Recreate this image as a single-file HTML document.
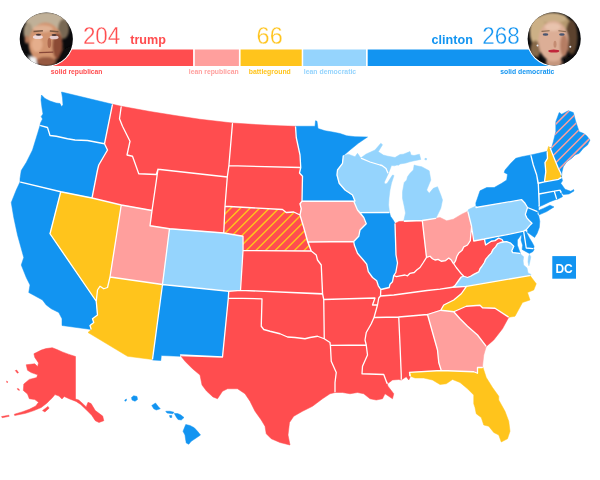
<!DOCTYPE html>
<html lang="en"><head><meta charset="utf-8"><title>Road to 270</title>
<style>
html,body{margin:0;padding:0;background:#fff;}
body{width:600px;height:480px;overflow:hidden;}
svg{display:block;font-family:"Liberation Sans",sans-serif;}
.sr{fill:#ff4d4f;stroke:#ff4d4f}.lr{fill:#ff9f9d;stroke:#ff9f9d}.bg{fill:#ffc41c;stroke:#ffc41c}.ld{fill:#95d4fd;stroke:#95d4fd}.sd{fill:#1294f1;stroke:#1294f1}
.ne{fill:#ff4d4f;stroke:#ff4d4f}.me{fill:#1294f1;stroke:#1294f1}
#map .st line{stroke-width:1.45;}
#map path{stroke-width:.5;stroke-linejoin:round;}
#map path.bd{fill:none;stroke:#fff;stroke-width:1.3;stroke-linecap:round;stroke-linejoin:round;}
.num{font-size:22.4px;stroke:#fff;stroke-width:.3px;}
.name{font-size:12.6px;font-weight:bold;}
.lab{font-size:6.8px;font-weight:bold;}
.dc{font-size:12px;font-weight:bold;fill:#fff;text-anchor:middle;}
</style></head><body>
<svg width="600" height="480" viewBox="0 0 600 480">
<defs>
<clipPath id="cne"><path d="M225,206.25 282.5,209.5 286.25,212.5 293.75,212 300,215 303.75,227.5 307.5,240.75 311.25,251 243,250.5 243,236.25 223.75,233Z"/></clipPath>
<clipPath id="cme"><path d="M551.7,147.5 553.3,141.7 555.8,131.7 555.8,121.7 559.2,112.5 561.7,114.2 568.3,110.8 573.3,112.5 575.8,121.7 579.2,131.7 583.3,133.3 586.7,135.8 590,140 587.5,145 583.3,148.3 579.2,153.3 575,155 571.7,158.3 566.7,161.7 563.3,166.7 562,172 561.5,177 560.8,173.3 558.3,168.3 554.2,158.3 550,147.5 550,147.5Z"/></clipPath>
<clipPath id="cl"><circle cx="46.3" cy="39.1" r="26.6"/></clipPath>
<clipPath id="cr"><circle cx="554.2" cy="38.8" r="26.6"/></clipPath>
<filter id="bl" x="-20%" y="-20%" width="140%" height="140%"><feGaussianBlur stdDeviation="1"/></filter>
<filter id="bs" x="-20%" y="-20%" width="140%" height="140%"><feGaussianBlur stdDeviation="0.45"/></filter>
</defs>
<g id="bar">
<rect x="46" y="49.5" width="147.1" height="16.5" fill="#ff4d4f"/>
<rect x="194.8" y="49.5" width="44.1" height="16.5" fill="#ff9f9d"/>
<rect x="240.6" y="49.5" width="61.1" height="16.5" fill="#ffc41c"/>
<rect x="303.2" y="49.5" width="62.8" height="16.5" fill="#95d4fd"/>
<rect x="367.7" y="49.5" width="186.3" height="16.5" fill="#1294f1"/>
</g>
<g id="hdr">
<text class="num" transform="translate(82.9,43.85) scale(1,1.065)" fill="#ff4d4f">204</text>
<text class="name" x="130.2" y="43.7" fill="#ff4d4f">trump</text>
<text class="num" transform="translate(256.6,43.85) scale(1,1.065)" fill="#ffc41c" textLength="26.1" lengthAdjust="spacingAndGlyphs">66</text>
<text class="name" x="431.6" y="43.7" fill="#1294f1">clinton</text>
<text class="num" transform="translate(482.3,43.85) scale(1,1.065)" fill="#1294f1">268</text>
<text class="lab" x="50.8" y="73.6" fill="#ff4d4f" textLength="51.7" lengthAdjust="spacingAndGlyphs">solid republican</text>
<text class="lab" x="188.8" y="73.6" fill="#ff9f9d" textLength="49.8" lengthAdjust="spacingAndGlyphs">lean republican</text>
<text class="lab" x="248.8" y="73.6" fill="#ffc41c" textLength="42" lengthAdjust="spacingAndGlyphs">battleground</text>
<text class="lab" x="303.8" y="73.6" fill="#95d4fd" textLength="52.4" lengthAdjust="spacingAndGlyphs">lean democratic</text>
<text class="lab" x="500.2" y="73.6" fill="#1294f1" textLength="54.2" lengthAdjust="spacingAndGlyphs">solid democratic</text>
</g>
<g id="avL">
<circle cx="46.3" cy="39.1" r="27.7" fill="#fff"/>
<circle cx="46.3" cy="39.1" r="26.6" fill="#0a0a0c"/>
<g clip-path="url(#cl)"><g filter="url(#bl)">
<ellipse cx="46.6" cy="22.5" rx="21" ry="10.5" fill="#c0b098"/>
<ellipse cx="28" cy="31.5" rx="4.5" ry="9" fill="#a5947c"/>
<ellipse cx="63.5" cy="29" rx="5.5" ry="10" fill="#786853"/>
<ellipse cx="26.8" cy="39.5" rx="2" ry="4" fill="#b87a5c"/>
<ellipse cx="45.4" cy="43.2" rx="16.8" ry="20.6" fill="#d2946f"/>
<ellipse cx="42.9" cy="28.8" rx="10" ry="3.6" fill="#e0b193"/>
<ellipse cx="37" cy="44.5" rx="5.5" ry="7.5" fill="#e5ae8c"/>
<ellipse cx="57.5" cy="46" rx="5" ry="13" fill="#8c4c36"/>
<ellipse cx="46" cy="61.5" rx="10" ry="4.5" fill="#96583f"/>
<path d="M29,55.5 L36,58 L37.3,66 L30,66Z" fill="#f4f4f4"/>
<path d="M16,50 L27.5,53.5 L31,70 L16,70Z" fill="#0a0a0c"/>
<path d="M57,60 L62,50 L76,44 L76,70 L52,70Z" fill="#0a0a0c"/>
</g><g filter="url(#bs)">
<ellipse cx="37.9" cy="37" rx="5" ry="2" fill="#f0dada"/>
<ellipse cx="54.1" cy="37.4" rx="4.5" ry="1.8" fill="#e6cccd"/>
<path d="M33.5,31.6 L42.9,30.8 M49.8,30.9 L58.5,31.8" stroke="#7a5843" stroke-width="1.5" fill="none"/>
<ellipse cx="38.5" cy="34.7" rx="2.6" ry="1" fill="#4a3838"/>
<ellipse cx="54.1" cy="35" rx="2.6" ry="1" fill="#4a3838"/>
<ellipse cx="49.3" cy="43" rx="1.8" ry="5" fill="#ad684d"/>
<path d="M39.2,52.6 L53.4,52.2" stroke="#874638" stroke-width="1.3" fill="none"/>
</g></g>
</g>
<g id="avR">
<circle cx="554.2" cy="38.8" r="27.7" fill="#fff"/>
<circle cx="554.2" cy="38.8" r="26.6" fill="#0a0a0c"/>
<g clip-path="url(#cr)"><g filter="url(#bl)">
<ellipse cx="552.5" cy="34" rx="22.5" ry="21.5" fill="#b5986e"/>
<ellipse cx="537.8" cy="30.5" rx="8" ry="14" fill="#ccb086"/>
<ellipse cx="552.8" cy="18" rx="14" ry="5" fill="#c9ae86"/>
<ellipse cx="571.5" cy="37" rx="6" ry="17" fill="#5c432e"/>
<ellipse cx="535.3" cy="49.5" rx="5" ry="9" fill="#86694a"/>
<ellipse cx="554" cy="62" rx="8" ry="6" fill="#c4957b"/>
<ellipse cx="553.4" cy="41.1" rx="15" ry="20.4" fill="#dcae96"/>
<ellipse cx="552.8" cy="27" rx="8" ry="4" fill="#e8c3ad"/>
<ellipse cx="564" cy="45.5" rx="4" ry="11" fill="#b57d63"/>
<path d="M524,54 L539,57 L546,70 L524,70Z" fill="#0a0a0c"/>
<path d="M565,59 L584,48 L584,70 L560,70Z" fill="#0a0a0c"/>
</g><g filter="url(#bs)">
<path d="M541.5,31.4 L549.6,30.8 M558.4,30.8 L565.9,31.6" stroke="#8a6a50" stroke-width="1.1" fill="none"/>
<ellipse cx="545.5" cy="34.5" rx="2.8" ry="1.3" fill="#4a5570"/>
<ellipse cx="561.9" cy="34.5" rx="2.8" ry="1.3" fill="#4a5570"/>
<ellipse cx="555" cy="44.3" rx="1.5" ry="3.5" fill="#c48c72"/>
<ellipse cx="553.8" cy="51.1" rx="5.5" ry="1.5" fill="#c0283a"/>
<circle cx="537.5" cy="45.5" r="1" fill="#e8e8f0"/>
<circle cx="570.3" cy="46.8" r="1" fill="#e8e8f0"/>
</g></g>
</g>

<g id="map">
<path class="sd" d="M40,125.5 40.5,123 42.5,119 41.2,116.5 43,114 42,108 41,100 41.5,95 45,98.5 50,101 56,103 60,103.5 61.5,106.5 63,105 62.5,98 61.5,92 112.5,104.25 104.5,143.75 87.5,140.5 75,140 67.5,138.75 56.25,136.25 50,135.5 47.5,127.5 40,125.5Z"/>
<path class="sd" d="M40,125.5 37.5,133.75 32.5,150 26.25,162.5 21.25,170.5 20,178.75 20,182 60.75,191.75 92,198 97.5,170 98.75,165 107.5,150 104.5,143.75 87.5,140.5 75,140 67.5,138.75 56.25,136.25 50,135.5 47.5,127.5 40,125.5Z"/>
<path class="sd" d="M20,182 60.75,191.75 50,233.75 96.25,301.25 97.5,315 92.5,318.75 93.75,322.5 90,325.5 91.25,329.5 62,325.5 62,318.75 58.75,312.5 51.25,308.75 46.25,305 42.5,300 28.75,292.5 30,285 26.25,277.5 21.25,265 23.75,257.5 17.5,235 13.75,217.5 11.25,202.5 16.25,190Z"/>
<path class="bg" d="M60.75,191.75 92,198 121.25,205 110,277 107.5,287.5 103.75,288.75 100,286.25 97.5,290 96.25,301.25 50,233.75Z"/>
<path class="sr" d="M112.5,104.25 121.25,106.25 119.5,118.75 122.5,126.25 130,141.25 127,155 132.5,156.25 138.75,173.75 156.25,174.5 158,169.25 152,210.5 121.25,205 92,198 97.5,170 98.75,165 107.5,150 104.5,143.75 112.5,104.25Z"/>
<path class="sr" d="M121.25,106.25 150,111.5 175,115.5 200,119.25 232.5,123 228.9,165.7 227.3,177 158,169.25 156.25,174.5 138.75,173.75 132.5,156.25 127,155 130,141.25 122.5,126.25 119.5,118.75Z"/>
<path class="sr" d="M158,169.25 227.3,177 225,206.25 223.75,233 169.5,228.75 150,225.75 152,210.5Z"/>
<path class="lr" d="M121.25,205 152,210.5 150,225.75 169.5,228.75 162.5,284.5 110,277Z"/>
<path class="ld" d="M169.5,228.75 223.75,233 243,236.25 243,250.5 240.5,290.3 228.75,291.25 162.5,284.5Z"/>
<path class="bg" d="M110,277 162.5,284.5 152.5,359.5 127.5,356.3 88,332.5 91.25,329.5 90,325.5 93.75,322.5 92.5,318.75 97.5,315 96.25,301.25 97.5,290 100,286.25 103.75,288.75 107.5,287.5 110,277Z"/>
<path class="sd" d="M162.5,284.5 228.75,291.25 228.3,298.2 222.5,357 180.5,355 180,356.3 161.3,355.5 160.8,360.5 152.4,360Z"/>
<path class="sr" d="M232.5,123 260,124.8 280,125.8 295.5,126.25 296.25,137.5 300,155 300.75,167.5 228.9,165.7Z"/>
<path class="sr" d="M228.9,165.7 300.75,167.5 299.5,173 302.5,176.25 302,201.25 300,203.75 301.25,208.75 300,215 293.75,212 286.25,212.5 282.5,209.5 225,206.25 227.3,177Z"/>
<path class="ne" d="M225,206.25 282.5,209.5 286.25,212.5 293.75,212 300,215 303.75,227.5 307.5,240.75 311.25,251 243,250.5 243,236.25 223.75,233Z"/>
<path class="sr" d="M243,250.5 311.25,251 316.25,255 317.5,260 321.25,265 322.5,293.75 240.5,290.3Z"/>
<path class="sr" d="M228.75,291.25 240.5,290.3 322.6,294 323.75,299.5 324.25,338.75 317.5,336.25 310,337.5 305,338.75 295,337.5 287.5,337 280,333.75 270,331.25 263.75,329.5 261.25,326.25 262,298.8 228.3,298.2Z"/>
<path class="sr" d="M228.3,298.2 262,298.8 261.25,326.25 263.75,329.5 270,331.25 280,333.75 287.5,337 295,337.5 305,338.75 310,337.5 317.5,336.25 324.25,338.75 330,342.5 330.25,345 330.4,345.3 331.25,361.25 336.25,372.5 335,382.5 335,392.5 330,393.75 322.5,398.75 312.5,406.25 302.5,411.25 293.75,416.25 289.5,422.5 288,435 290,445 280,442.5 271.25,438.75 266.25,433.75 265,426.25 261.25,420 255,411.25 250,401.25 245,393.75 237.5,388.75 227.5,388.75 222.5,391.25 217.5,398.75 213,397 206.5,391 202,385 200,375 192.5,368.75 185,361.25 180.5,355.5 222.5,357Z"/>
<path class="sd" d="M295.5,126.25 315,126.25 315.5,120.75 317,121.25 318,128.5 325,130.75 332.5,132 340,133.5 346.7,135.8 355,136.7 367.5,137 358.3,143.3 350,150 343.3,155.8 342.5,163.3 337.5,170 337,175 339.2,183.3 345,190 352.5,195 355,201 302,201.25 302.5,176.25 299.5,173 300.75,167.5 300,155 296.25,137.5Z"/>
<path class="lr" d="M302,201.25 353.75,201.25 357.5,210 363.75,217.5 366.25,223.75 360,230 358.75,236.25 353.75,241.5 307.7,242 303.75,227.5 300,215 301.25,208.75 300,203.75Z"/>
<path class="sr" d="M307.7,242 353.75,241.5 354.3,245 357.5,253.3 363.3,260 366.7,264.2 368.3,271.7 372.5,277.5 376.7,280.8 378.3,285.8 380.8,289.5 380.5,296 378.75,298 377.5,305 372.5,305 375,298 323.75,299.5 322.6,294 321.25,265 317.5,260 316.25,255 311.25,251Z"/>
<path class="sr" d="M323.75,299.5 375,298 372.5,305 377.5,305 377.5,305 374,317.5 371.25,323.75 366.25,332.5 365,340 366.25,345 330.4,345.3 330.25,345 330,342.5 324.25,338.75Z"/>
<path class="sr" d="M330.4,345.3 366.25,345 367.5,355 362.5,366.25 362,373.75 383.75,374.5 386.25,381.25 388,386.25 393.75,393.75 392.5,398.75 385,393.75 382.5,398.75 376.25,400 370,398.75 363.75,393.75 357.5,392.5 350,393.75 342.5,392.5 335,392.5 335,382.5 336.25,372.5 331.25,361.25 330.4,345.3Z"/>
<path class="sr" d="M374,317.5 398.75,317 400,345 401.25,375 401.25,380 398.75,379.5 392.5,380 387.5,383.75 386.25,381.25 383.75,374.5 362,373.75 362.5,366.25 367.5,355 366.25,345 365,340 366.25,332.5 371.25,323.75Z"/>
<path class="sr" d="M398.75,317 427.5,314.5 437.5,350 438.75,362.5 441.25,370.5 409.5,372.3 410,377.5 408.75,380 406.25,376.75 401.25,380 401.25,375 400,345Z"/>
<path class="sr" d="M380.5,296 393.75,295 427,290.5 440,289.2 452.5,287.25 466.5,286.3 461.25,293.75 453.75,300 443.75,305 440.75,310.25 427.5,314.5 398.75,317 374,317.5 377.5,305 378.75,298 380.5,296Z"/>
<path class="sr" d="M380.8,289.5 385,288.5 389.2,287.5 390,284.2 392.5,281.7 393.75,275.5 396.5,276.6 400,275.8 405,275 407.5,275.8 410,273.3 414.2,272.5 416.7,270 420,267.5 423.3,262.5 426.5,257.3 430,256.25 432.5,258.75 435,260 438.1,259.4 441.25,261.25 445.6,260.6 448.75,258.1 451.25,260 453.1,263.1 453.75,263.75 456.25,267.5 458.75,270.6 461.25,273.75 463.75,276.25 461.25,277 458.1,281.25 455,285.6 452.5,287.25 440,289.2 427,290.5 393.75,295 380.5,296Z"/>
<path class="sd" d="M360,212.7 389.5,212.5 390.5,216.25 393.5,220.5 395,223.5 396,255 397.5,263 395.8,272.5 393.75,275.5 392.5,281.7 390,284.2 389.2,287.5 385,288.5 380.8,289.5 378.3,285.8 376.7,280.8 372.5,277.5 368.3,271.7 366.7,264.2 363.3,260 357.5,253.3 354.3,245 353.75,241.5 353.75,241.5 358.75,236.25 360,230 366.25,223.75 363.75,217.5Z"/>
<path class="sr" d="M395,223.5 399,221.5 422.3,220.5 426.5,257.3 423.3,262.5 420,267.5 416.7,270 414.2,272.5 410,273.3 407.5,275.8 405,275 400,275.8 396.5,276.6 393.75,275.5 395.8,272.5 397.5,263 396,255Z"/>
<path class="lr" d="M422.3,220.5 435.8,218.3 440,217.5 446.7,220.8 453.3,219.2 461.7,214.2 467.8,211.3 471.6,226.5 471,232.5 470.3,240.6 467.5,245 463.75,246.9 461.9,250.6 458.75,253.1 456.9,256.25 455.6,260.6 453.75,263.75 453.1,263.1 451.25,260 448.75,258.1 445.6,260.6 441.25,261.25 438.1,259.4 435,260 432.5,258.75 430,256.25 426.5,257.3Z"/>
<path class="ld" d="M343.3,155.8 348.3,154.2 355,156.7 357.5,153.3 360.8,158 370,162 380,165 382,165.5 386,168.5 388.25,173.75 384.3,182.2 385,184 387,183.6 392.5,175 394,175.5 391.5,183 390,190 389,198 388.6,205 389.5,212.5 360,212.7 357.5,210 353.75,201.25 355,201 352.5,195 345,190 339.2,183.3 337,175 337.5,170 342.5,163.3Z"/>
<path class="ld" d="M360.8,158 370,162 380,165 382,165.5 386,168.5 388.25,173.75 391.5,165.5 394.5,165.8 397,165 398.5,165.2 400,164 406,163 409,162 413,161 420.8,159.4 419.4,154.2 414,155.5 411,155 410,151.6 403.3,154.2 400,154.5 395,157.5 387,156 383.3,155 378.3,151.7 382.5,144.7 380.8,143.3 375,150 365.8,154.2ZM414.2,165 416.7,165.8 421.7,166.7 429.2,170.8 430.8,180 426.7,190 429.2,193.3 433.3,188.3 437.5,186.7 440.8,195 442.5,200 440.8,208.3 437.5,215 435.8,218.3 422.3,220.5 403.75,220.8 405.5,213 404.2,206 402.5,198.3 402.5,191.7 404.2,182.5 406.7,180 407.5,176.7 410,173.3 413.3,170ZM425,158.3 426.7,158.6 426.3,160 424.8,159.6Z"/>
<path class="ld" d="M467.8,211.3 468.5,209.5 476,206 476,207.5 521.7,199.7 525,203.3 527.5,207.5 525.3,214.5 527,218.1 529.4,220.7 532,223.3 529.6,225.6 526.25,229.6 523.6,231.1 508.5,234.3 495,236.9 484.4,239 473.75,241 471.6,226.5Z"/>
<path class="sd" d="M476,206 475.8,203 480,190.8 486.7,187.5 494.2,187.5 501.7,183.3 506.7,180 507.5,174.2 504.2,172.5 505,170 510.8,163.3 515.8,158.3 521.7,156.7 530.8,155 533.3,165 536.7,175 538.3,183.3 538.7,193.3 539.2,205 538.3,209.2 539.5,211 537.5,211.5 527.5,207.5 525,203.3 521.7,199.7 476,207.5ZM538.4,211.6 539.2,214.8 546.7,211.6 554,206.9 550,205.2 543.3,208.4 539.5,210Z"/>
<path class="sd" d="M527.5,207.5 537.5,211.5 537.3,214 538.75,216 539.8,221.25 539.3,227.5 537.2,233.2 534.6,237.4 531.5,235.3 527.3,232.2 526.25,229.6 529.6,225.6 532,223.3 529.4,220.7 527,218.1 525.3,214.5Z"/>
<path class="sd" d="M523.6,231.1 526.25,229.8 526.6,232.7 529.4,237.9 532.5,243.1 534.1,246.25 533.5,248.7 526.25,248 524.7,237.9Z"/>
<path class="sd" d="M484.4,239 495,236.9 508.5,234.3 523.6,231.1 524.7,237.9 526.25,248 533.5,248.7 534.1,249.5 533,251.5 529.4,253.5 524.7,250.9 522.1,249.4 522.6,245.2 521,240 521.6,235.8 521.2,234.8 517.4,240 517.4,245.2 519.5,250.9 520.5,253.5 512.7,252.6 511.7,250.9 513.75,246.25 510.6,243.1 506.5,241.6 503.5,242 502,239.5 498.6,238.1 495,240.6 491.25,241.25 487.5,243.75 485.6,245Z"/>
<path class="sr" d="M453.75,263.75 455.6,260.6 456.9,256.25 458.75,253.1 461.9,250.6 463.75,246.9 467.5,245 470.3,240.6 471,232.5 471.6,226.5 473.75,241 484.4,239 485.6,245 487.5,243.75 491.25,241.25 495,240.6 498.6,238.1 502,239.5 503.5,242 500.6,242.5 497.5,243.75 495.6,246.9 493.1,249.4 491.25,253.1 488.75,255.6 487.75,256.9 485.6,259.4 484.4,262.5 481.9,266.25 480,268.75 478.75,271.9 473.75,274.4 470.6,276.25 467.5,277.5 463.75,276.25 461.25,273.75 458.75,270.6 456.25,267.5Z"/>
<path class="ld" d="M452.5,287.25 455,285.6 458.1,281.25 461.25,277 463.75,276.25 467.5,277.5 470.6,276.25 473.75,274.4 478.75,271.9 480,268.75 481.9,266.25 484.4,262.5 485.6,259.4 487.75,256.9 488.75,255.6 491.25,253.1 493.1,249.4 495.6,246.9 497.5,243.75 500.6,242.5 503.5,242 506.5,241.6 510.6,243.1 513.75,246.25 511.7,250.9 512.7,252.6 520.5,253.5 521,254.6 523.6,256.7 523.1,260.8 523.6,265 527,268 528,273 531,274.4 530,275.5 466.5,286.3ZM529.4,254.4 530.8,256.7 529.8,262 528.9,265.8 528,262 528.4,257Z"/>
<path class="bg" d="M466.5,286.3 530,275.5 536.25,283.75 533.75,290 527.5,292.5 530,300 522.5,302.5 515,316.25 508.75,317.25 495,308.25 482.5,307.75 480,305.25 466.25,306.25 453.75,311.75 440.75,310.25 443.75,305 453.75,300 461.25,293.75Z"/>
<path class="sr" d="M453.75,311.75 466.25,306.25 480,305.25 482.5,307.75 495,308.25 508.75,317.25 502.5,328.75 493.75,340 486.25,346.5 477.5,335 467.5,326.25 460,318.75Z"/>
<path class="lr" d="M427.5,314.5 440.75,310.25 453.75,311.75 460,318.75 467.5,326.25 477.5,335 486.25,346.5 483.75,355 482.5,366.25 483,367.5 477.5,367.5 477.5,373.25 473.75,371.75 441.25,370.5 438.75,362.5 437.5,350Z"/>
<path class="bg" d="M409.5,372.3 441.25,370.5 473.75,371.75 477.5,373.25 477.5,367.5 483,367.5 486.25,377.5 492.5,387.5 498.75,396.25 498.75,400 505,411.25 508.75,421.25 510,431.25 507.5,438.75 501.25,442 498.75,435 493.75,432.5 488.75,426.25 483.75,425 481.25,417.5 476.25,413.75 475,407.5 473.75,403.75 473.75,395 467.5,388.75 460,382.5 452.5,379.5 446.25,383.75 440,384.5 432.5,380 423.75,378 415,378 410.5,376.25Z"/>
<path class="sd" d="M530.8,155 547.2,151.3 547.5,158.3 545,162.5 545.8,171.7 544.5,181.8 538,183.3 536.7,175 533.3,165Z"/>
<path class="bg" d="M547.2,151.3 548.5,146.5 550,147.5 554.2,158.3 558.3,168.3 560.8,173.3 561.5,177 558.5,179.3 544.5,181.8 545.8,171.7 545,162.5 547.5,158.3Z"/>
<path class="me" d="M551.7,147.5 553.3,141.7 555.8,131.7 555.8,121.7 559.2,112.5 561.7,114.2 568.3,110.8 573.3,112.5 575.8,121.7 579.2,131.7 583.3,133.3 586.7,135.8 590,140 587.5,145 583.3,148.3 579.2,153.3 575,155 571.7,158.3 566.7,161.7 563.3,166.7 562,172 561.5,177 560.8,173.3 558.3,168.3 554.2,158.3 550,147.5 550,147.5Z"/>
<path class="sd" d="M538.3,183.3 544.5,181.8 558.5,179.3 561.7,177.5 562.5,180.8 560.8,183.3 565,189.2 570.8,191.3 573.6,189.6 574,191 569,194 563.3,194.6 561.5,192.5 560,190.2 554.3,191.2 539,194 538.7,193.3Z"/>
<path class="sd" d="M539,194 554.3,191.2 556.7,199.2 550,201.7 543.3,205 539.2,206.7 539.2,205Z"/>
<path class="sd" d="M554.3,191.2 560,190.2 562.5,196.7 557.5,199.2 556.7,199.2Z"/>
<path class="sr" d="M33.9,353.75 41.25,350.1 46,348.6 52.25,347.7 57,349.6 62.3,351.9 69,354.4 75.5,356.5 75.5,399 78.8,400.1 83.4,404.2 86.2,406.9 88,402.3 91.1,403.6 95.3,410.6 102.7,416.1 103.8,420.7 99,422.5 95.3,420.7 91.7,415.2 86.2,409.7 80.7,404.5 76.1,401.4 69.7,399 64.2,396.5 62,399 59,396.1 55,394.6 51.9,398.3 49.5,400.5 46.75,403.25 41.25,407.5 33.9,410.6 25.7,413.3 14.7,415.5 14.3,414.25 22,411.9 29.3,409.3 35.75,406 38.5,402.3 34.8,399.6 29.3,398.7 27.5,394.1 23.3,390.4 23.8,384 29.3,379.4 36.7,377.6 37.6,374.8 31.2,372.6 27.5,370.25 26.2,364.75 34.8,363.8 37.6,366.6 38.5,362.9 34.8,357.4ZM42.5,410.6 48,406.4 49.1,408.2 44.9,411.9ZM1.5,416.6 8.8,415.2 9.2,416.3 2.2,417.7ZM15.3,370.6 16.6,370 18.5,372.6 17.4,373.2ZM6.5,381 7.6,381.6 7.2,383ZM17.3,388.4 19,389 19.4,390.4 17.8,389.8Z"/>
<path class="sd" d="M131.5,397.5 133.75,395.75 137,396.5 137.5,399.5 135,401.25 132,400ZM124.75,400 126.5,399 126.25,400.75 125,401.25ZM151.75,405.5 155.5,403 158,406.25 160.25,408.75 156.25,410 153.75,408.75ZM165.75,411.25 170,411.25 174,412.25 172.75,413.75 167,413ZM169.5,415.5 171.75,415.5 171.75,417.5 170,417.5ZM174.25,413.5 177.5,413.5 180.5,414.75 184,417.5 181.25,420 178,419.5 176.25,417ZM185.75,424.5 190,425.5 194.25,427.75 197.5,431.25 200.5,435 195,438.75 191.25,441.25 188.75,444.25 186.25,443 185.5,438.75 185,435 183,431.25Z"/>
<g class="st" clip-path="url(#cne)" stroke="#ffc41c"><line x1="217.62" y1="202" x2="164.62" y2="255"/><line x1="227.26" y1="202" x2="174.26" y2="255"/><line x1="236.90" y1="202" x2="183.90" y2="255"/><line x1="246.54" y1="202" x2="193.54" y2="255"/><line x1="256.18" y1="202" x2="203.18" y2="255"/><line x1="265.82" y1="202" x2="212.82" y2="255"/><line x1="275.46" y1="202" x2="222.46" y2="255"/><line x1="285.10" y1="202" x2="232.10" y2="255"/><line x1="294.74" y1="202" x2="241.74" y2="255"/><line x1="304.38" y1="202" x2="251.38" y2="255"/><line x1="314.02" y1="202" x2="261.02" y2="255"/><line x1="323.66" y1="202" x2="270.66" y2="255"/><line x1="333.30" y1="202" x2="280.30" y2="255"/><line x1="342.94" y1="202" x2="289.94" y2="255"/><line x1="352.58" y1="202" x2="299.58" y2="255"/><line x1="362.22" y1="202" x2="309.22" y2="255"/><line x1="371.86" y1="202" x2="318.86" y2="255"/></g><g class="st" clip-path="url(#cme)" stroke="#ff9f9d"><line x1="544.98" y1="106" x2="468.98" y2="182"/><line x1="554.62" y1="106" x2="478.62" y2="182"/><line x1="564.26" y1="106" x2="488.26" y2="182"/><line x1="573.90" y1="106" x2="497.90" y2="182"/><line x1="583.54" y1="106" x2="507.54" y2="182"/><line x1="593.18" y1="106" x2="517.18" y2="182"/><line x1="602.82" y1="106" x2="526.82" y2="182"/><line x1="612.46" y1="106" x2="536.46" y2="182"/><line x1="622.10" y1="106" x2="546.10" y2="182"/><line x1="631.74" y1="106" x2="555.74" y2="182"/><line x1="641.38" y1="106" x2="565.38" y2="182"/><line x1="651.02" y1="106" x2="575.02" y2="182"/><line x1="660.66" y1="106" x2="584.66" y2="182"/><line x1="670.30" y1="106" x2="594.30" y2="182"/></g>
<path class="bd" d="M20.62,182.15 60.75,191.75M104.5,143.75 87.5,140.5 75,140 67.5,138.75 56.25,136.25 50,135.5 47.5,127.5 40.63,125.67M60.75,191.75 92,198M60.75,191.75 50,233.75 96.25,301.25M96.25,301.25 97.5,315 92.5,318.75 93.75,322.5 90,325.5 91.08,328.96M92,198 121.25,205M92,198 97.5,170 98.75,165 107.5,150 104.5,143.75M110,277 107.5,287.5 103.75,288.75 100,286.25 97.5,290 96.25,301.25M112.37,104.89 104.5,143.75M162.5,284.5 110,277M121.25,205 110,277M121.16,106.89 119.5,118.75 122.5,126.25 130,141.25 127,155 132.5,156.25 138.75,173.75 156.25,174.5 158,169.25M152,210.5 121.25,205M169.5,228.75 150,225.75 152,210.5M158,169.25 152,210.5M152.54,358.92 162.5,284.5M162.5,284.5 152.58,358.93M227.3,177 158,169.25M228.75,291.25 162.5,284.5M169.5,228.75 162.5,284.5M223.75,233 169.5,228.75M222.5,357 180.5,355 180.49,355.04M181.35,355.53 222.5,357M228.3,298.2 222.5,357M223.75,233 243,236.25 243,250.5M225,206.25 223.75,233M300,215 293.75,212 286.25,212.5 282.5,209.5 225,206.25M227.3,177 225,206.25M228.9,165.7 227.3,177M324.25,338.75 317.5,336.25 310,337.5 305,338.75 295,337.5 287.5,337 280,333.75 270,331.25 263.75,329.5 261.25,326.25 262,298.8 228.3,298.2M228.75,291.25 228.3,298.2M240.5,290.3 228.75,291.25M300.75,167.5 228.9,165.7M232.45,123.65 228.9,165.7M321.25,265 322.5,293.75 240.5,290.3M240.5,290.3 322.6,294M243,250.5 240.5,290.3M311.25,251 243,250.5M295.54,126.9 296.25,137.5 300,155 300.75,167.5M300,215 303.75,227.5M302,201.25 300,203.75 301.25,208.75 300,215M300.75,167.5 299.5,173 302.5,176.25 302,201.25M302,201.25 353.75,201.25M355,201 302,201.25M303.75,227.5 307.5,240.75 307.96,242M307.7,242 303.75,227.5M311.25,251 307.7,242M307.96,242 311.25,251M353.75,241.5 307.96,242M311.25,251 316.25,255 317.5,260 321.25,265M322.6,294 321.25,265M322.6,294 323.75,299.5M323.75,299.5 324.25,338.75M377.5,305 372.5,305 375,298 323.75,299.5M324.25,338.75 330,342.5 330.25,345 330.4,345.3M330.4,345.3 331.25,361.25 336.25,372.5 335,382.5 335,391.85M366.25,345 330.4,345.3M343.3,155.8 342.5,163.3 337.5,170 337,175 339.2,183.3 345,190 352.5,195 355,201M353.75,201.25 357.5,210M353.75,201.25 355,201M353.75,241.5 354.3,245 357.5,253.3 363.3,260 366.7,264.2 368.3,271.7 372.5,277.5 376.7,280.8 378.3,285.8 380.8,289.5M363.75,217.5 366.25,223.75 360,230 358.75,236.25 353.75,241.5M360,212.7 357.5,210M357.5,210 363.75,217.5M363.75,217.5 360,212.7M360,212.7 388.85,212.5M361.48,158.3 370,162 380,165 382,165.5 386,168.5 387.89,172.9M366.25,345 367.5,355 362.5,366.25 362,373.75 383.75,374.5 386.25,381.25M374,317.5 371.25,323.75 366.25,332.5 365,340 366.25,345M377.5,305 374,317.5M374,317.5 398.75,317M380.5,296 378.75,298 377.5,305M380.8,289.5 380.5,296M380.5,296 393.75,295 427,290.5 440,289.2 452.5,287.25M380.8,289.5 385,288.5 389.2,287.5 390,284.2 392.5,281.7 393.75,275.5M387.2,383.16 386.25,381.25M386.25,381.25 386.97,383.31M393.75,275.5 396.5,276.6 400,275.8 405,275 407.5,275.8 410,273.3 414.2,272.5 416.7,270 420,267.5 423.3,262.5 426.5,257.3M395.02,224.02 396,255 397.5,263 395.8,272.5 393.75,275.5M398.75,317 400,345 401.25,375 401.25,379.22M398.75,317 427.5,314.5M404.39,221.27 422.3,220.5M404.42,220.79 422.3,220.5M410.31,375.5 409.5,372.3M409.5,372.3 409.82,375.6M441.25,370.5 409.5,372.3M422.3,220.5 426.5,257.3M422.3,220.5 435.58,218.34M426.5,257.3 430,256.25 432.5,258.75 435,260 438.1,259.4 441.25,261.25 445.6,260.6 448.75,258.1 451.25,260 453.1,263.1 453.75,263.75M427.5,314.5 437.5,350 438.75,362.5 441.25,370.5M440.75,310.25 427.5,314.5M453.75,311.75 440.75,310.25M466.5,286.3 461.25,293.75 453.75,300 443.75,305 440.75,310.25M482.3,367.5 477.5,367.5 477.5,373.25 473.75,371.75 441.25,370.5M463.75,276.25 461.25,277 458.1,281.25 455,285.6 452.5,287.25M452.5,287.25 466.5,286.3M453.75,263.75 456.25,267.5 458.75,270.6 461.25,273.75 463.75,276.25M471.6,226.5 471,232.5 470.3,240.6 467.5,245 463.75,246.9 461.9,250.6 458.75,253.1 456.9,256.25 455.6,260.6 453.75,263.75M485.86,345.98 477.5,335 467.5,326.25 460,318.75 453.75,311.75M508.23,316.91 495,308.25 482.5,307.75 480,305.25 466.25,306.25 453.75,311.75M503.5,242 500.6,242.5 497.5,243.75 495.6,246.9 493.1,249.4 491.25,253.1 488.75,255.6 487.75,256.9 485.6,259.4 484.4,262.5 481.9,266.25 480,268.75 478.75,271.9 473.75,274.4 470.6,276.25 467.5,277.5 463.75,276.25M466.5,286.3 529.46,275.59M467.96,211.94 471.6,226.5M484.4,239 473.75,241 471.6,226.5M476,206.72 476,207.5 521.7,199.7 525,203.3 527.5,207.5M503.5,242 502,239.5 498.6,238.1 495,240.6 491.25,241.25 487.5,243.75 485.6,245 484.4,239M523.6,231.1 508.5,234.3 495,236.9 484.4,239M519.77,253.42 512.7,252.6 511.7,250.9 513.75,246.25 510.6,243.1 506.5,241.6 503.5,242M532.88,248.64 526.25,248 524.7,237.9 523.6,231.1M526.25,229.6 523.6,231.1M523.6,231.1 526.25,229.8 526.42,231.21M526.85,231.09 526.25,229.6M527.5,207.5 525.3,214.5 527,218.1 529.4,220.7 532,223.3 529.6,225.6 526.25,229.6M527.5,207.5 536.96,211.28M536.7,175 533.3,165 530.96,155.63M538.29,183.23 536.7,175M538.29,183.23 538,183.3 536.7,175M544.5,181.8 538.29,183.23M538.7,193.3 538.3,183.3M538.3,183.3 544.5,181.8M539.2,205 538.7,193.3M538.97,206.05 539.2,205M539.2,205 539,194M554.3,191.2 539,194M539.2,206 539.2,205M547.23,151.96 547.5,158.3 545,162.5 545.8,171.7 544.5,181.8M558.5,179.3 544.5,181.8M550.25,148.15 554.2,158.3 558.3,168.3 560.8,173.3 561.07,174.74M554.3,191.2 556.51,198.58M560,190.2 554.3,191.2M560.86,177.49 558.5,179.3M558.5,179.3 561.08,177.85M561.18,192 560,190.2M560,190.2 560.78,192.22"/>
</g>
<rect x="552.3" y="256.1" width="23.7" height="22.6" fill="#1294f1"/>
<text class="dc" x="564.1" y="272.8">DC</text>
</svg>
</body></html>
